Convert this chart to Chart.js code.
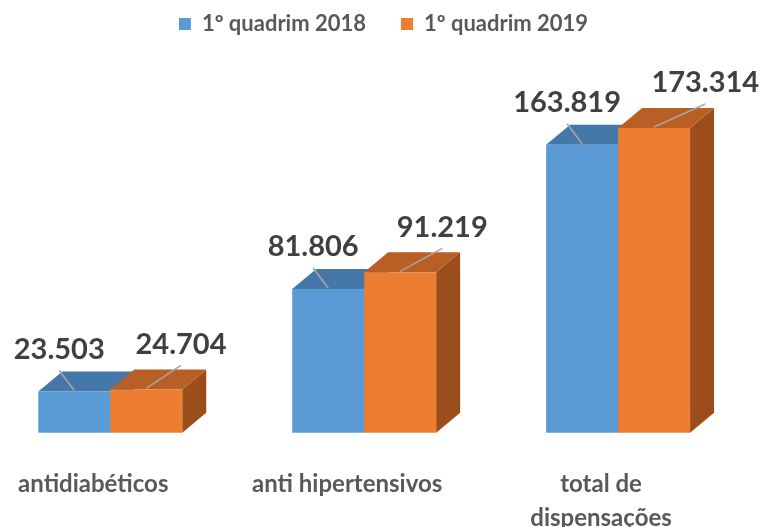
<!DOCTYPE html>
<html>
<head>
<meta charset="utf-8">
<script src="https://cdn.jsdelivr.net/npm/chart.js@4"></script>
<style>
    html, body { margin: 0; padding: 0; background: #fff; }
    #wrap { width: 759px; height: 527px; }
</style>
</head>
<body>
<div id="wrap"><canvas id="chart"></canvas></div>
<script>
const categories = ['antidiabéticos', 'anti hipertensivos', ['total de', 'dispensações']];
const seriesNames = ['1º quadrim 2018', '1º quadrim 2019'];
const values2018 = [23503, 81806, 163819];
const values2019 = [24704, 91219, 173314];

const FONT = 'Lato, "Open Sans", sans-serif';
const DEPTH_X = 24;
const DEPTH_Y = 20;

const faceColors = [
    { front: '#5b9bd5', top: '#4577a8', side: '#3f6d99' },
    { front: '#ed7d31', top: '#b95e24', side: '#9b4e1c' }
];

function fmt(v) {
    return v.toLocaleString('pt-BR');
}

// Excel style 3D columns: side + top face, then the library's own bar for the front.
// Drawn here dataset by dataset so the 2019 column sits over the 2018 one.
const bars3d = {
    id: 'bars3d',
    beforeInit(chart) {
        const legend = chart.legend;
        if (legend && !legend._fitPatched) {
            const fit = legend.fit;
            legend.fit = function () {
                fit.call(this);
                this.height = 103;
            };
            legend._fitPatched = true;
        }
    },
    beforeDatasetsDraw(chart) {
        const ctx = chart.ctx;
        chart.data.datasets.forEach((ds, di) => {
            const c = faceColors[di];
            const meta = chart.getDatasetMeta(di);
            meta.data.forEach(bar => {
                const { x, y, base, width } = bar.getProps(['x', 'y', 'base', 'width'], true);
                const l = x - width / 2, r = x + width / 2;
                ctx.save();
                ctx.fillStyle = c.side;
                ctx.beginPath();
                ctx.moveTo(r, y);
                ctx.lineTo(r + DEPTH_X, y - DEPTH_Y);
                ctx.lineTo(r + DEPTH_X, base - DEPTH_Y);
                ctx.lineTo(r, base);
                ctx.closePath();
                ctx.fill();
                ctx.fillStyle = c.top;
                ctx.beginPath();
                ctx.moveTo(l, y);
                ctx.lineTo(l + DEPTH_X, y - DEPTH_Y);
                ctx.lineTo(r + DEPTH_X, y - DEPTH_Y);
                ctx.lineTo(r, y);
                ctx.closePath();
                ctx.fill();
                ctx.restore();
                bar.draw(ctx);
            });
        });

        // value labels with leader lines
        ctx.save();
        ctx.font = 'bold 29px ' + FONT;
        ctx.textAlign = 'center';
        ctx.textBaseline = 'middle';
        chart.data.datasets.forEach((ds, di) => {
            const meta = chart.getDatasetMeta(di);
            meta.data.forEach((bar, i) => {
                const { x, y, base } = bar.getProps(['x', 'y', 'base'], true);
                const h = base - y;
                const lx = di === 0 ? x - 15 : x + 32 + h * 0.063;
                const ly = di === 0 ? y - 42 : y - 45;
                ctx.strokeStyle = '#a6a6a6';
                ctx.lineWidth = 1.6;
                ctx.beginPath();
                ctx.moveTo(lx, ly + 21);
                ctx.lineTo(x, y - 1);
                ctx.stroke();
                ctx.fillStyle = '#404040';
                ctx.fillText(fmt(ds.data[i].y), lx, ly);
            });
        });
        ctx.restore();
        return false;
    }
};

const toPoints = arr => arr.map((v, i) => ({ x: i, y: v }));

new Chart(document.getElementById('chart'), {
    type: 'bar',
    data: {
        datasets: [
            {
                label: seriesNames[0],
                data: toPoints(values2018),
                backgroundColor: faceColors[0].front
            },
            {
                label: seriesNames[1],
                data: toPoints(values2019),
                backgroundColor: faceColors[1].front
            }
        ]
    },
    options: {
        responsive: true,
        maintainAspectRatio: false,
        animation: false,
        layout: { padding: { top: -22, left: 8, right: 0, bottom: -42 } },
        datasets: {
            bar: { categoryPercentage: 0.567, barPercentage: 1.0 }
        },
        scales: {
            x: {
                type: 'linear',
                offset: false,
                min: -0.4016,
                max: 2.555,
                grid: { display: false, drawTicks: false, offset: false },
                border: { display: false },
                afterBuildTicks(scale) {
                    scale.ticks = categories.map((c, i) => ({ value: i }));
                },
                ticks: {
                    padding: 34,
                    labelOffset: -17,
                    maxRotation: 0,
                    autoSkip: false,
                    color: '#595959',
                    font: { family: FONT, size: 24, weight: 'bold', lineHeight: 1.42 },
                    callback: (value) => categories[value]
                }
            },
            y: {
                display: false,
                min: 0,
                max: 200000
            }
        },
        plugins: {
            legend: {
                position: 'top',
                labels: {
                    boxWidth: 12,
                    boxHeight: 12,
                    padding: 35,
                    color: '#595959',
                    font: { family: FONT, size: 22, weight: 'bold' }
                }
            },
            tooltip: { enabled: false }
        }
    },
    plugins: [bars3d]
});
</script>
</body>
</html>
